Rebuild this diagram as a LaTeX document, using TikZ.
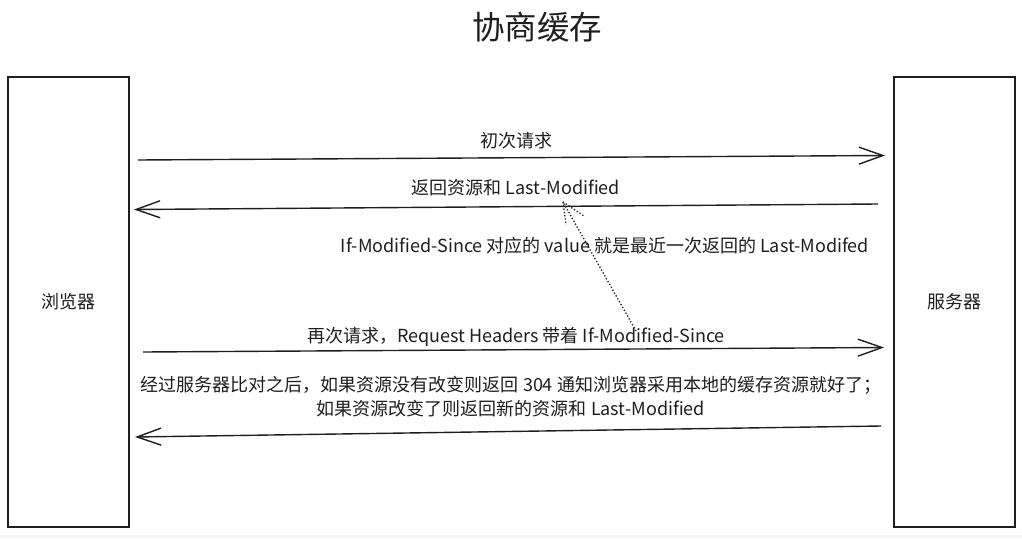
\documentclass[tikz,border=0pt]{standalone}
\usepackage{fontspec}
\setmainfont{Noto Sans CJK SC}
\usetikzlibrary{arrows.meta}
\definecolor{ink}{HTML}{1E1E1E}
\begin{document}
\begin{tikzpicture}[x=1pt,y=-1pt,
  lbl/.style={font=\fontsize{18}{24}\selectfont, text=ink, inner sep=0pt},
  ttl/.style={font=\fontsize{32.5}{38}\selectfont, text=ink, inner sep=0pt},
  boxnode/.style={draw=ink, line width=1.4pt, minimum width=121pt, minimum height=450pt, inner sep=0pt, font=\fontsize{18}{24}\selectfont, text=ink},
  msg/.style={draw=ink, line width=1.4pt, -{Straight Barb[length=24pt,width=17pt,line width=1.4pt]}},
  note/.style={draw=ink, line width=1.3pt, dotted}
]
\useasboundingbox (0,0) rectangle (1022,538);
\fill[gray!8] (0,535) rectangle (1022,538);

\node[ttl] (title) at (537,27) {协商缓存};

\node[boxnode] (browser) at (68.5,302) {浏览器};
\node[boxnode] (server) at (954.5,302) {服务器};

% message 1
\coordinate (m1s) at (138,160);
\coordinate (m1e) at (885,155.5);
\draw[msg] (m1s) -- (m1e);
\node[lbl] (l1) at (516,141) {初次请求};

% message 2
\coordinate (m2s) at (878,204);
\coordinate (m2e) at (134,209.5);
\draw[msg] (m2s) -- (m2e);
\node[lbl] (l2) at (516,188) {返回资源和 Last-Modified};

% dotted note arrow
\coordinate (ns) at (636,331);
\coordinate (nt) at (563,202);
\coordinate (na) at (584,216);
\coordinate (nb) at (566,225);
\draw[note] (ns) -- (nt);
\draw[note] (nt) -- (na);
\draw[note] (nt) -- (nb);
\node[lbl] (l3) at (605,246) {If-Modified-Since 对应的 value 就是最近一次返回的 Last-Modifed};

% message 3
\coordinate (m3s) at (143,352);
\coordinate (m3e) at (884,347.5);
\draw[msg] (m3s) -- (m3e);
\node[lbl] (l4) at (516,337) {再次请求，Request Headers 带着 If-Modified-Since};

% message 4
\coordinate (m4s) at (881,426);
\coordinate (m4e) at (135,437);
\draw[msg] (m4s) -- (m4e);
\node[lbl, align=center] (l5) at (511,397) {经过服务器比对之后，如果资源没有改变则返回 304 通知浏览器采用本地的缓存资源就好了；\\如果资源改变了则返回新的资源和 Last-Modified};
\end{tikzpicture}
\end{document}
